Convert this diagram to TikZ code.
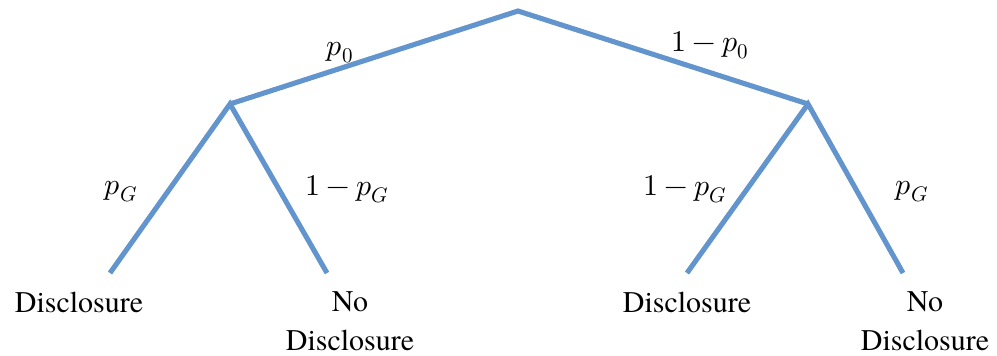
\documentclass[tikz,border=0pt]{standalone}
\usepackage{fontspec}
\usepackage{unicode-math}
\setmainfont{texgyretermes}[Extension=.otf,UprightFont=*-regular,BoldFont=*-bold,ItalicFont=*-italic,BoldItalicFont=*-bolditalic]
\setmathfont{Latin Modern Math}
\definecolor{branch}{RGB}{98,148,206}
\begin{document}
\begin{tikzpicture}[x=1pt,y=-1pt,
  edge/.style={draw=branch,line width=5pt,line cap=butt,line join=miter},
  shadowedge/.style={draw=black!25,line width=5pt,opacity=0.5},
  prob/.style={anchor=base,inner sep=0pt,font=\fontsize{30}{36}\selectfont},
  outcome/.style={anchor=base,inner sep=0pt,align=center,font=\fontsize{30}{39}\selectfont}]
\useasboundingbox (0,0) rectangle (997,356);
\coordinate (root) at (518,11);
\coordinate (L) at (230,104);
\coordinate (R) at (808,104);
\coordinate (LL) at (110,273);
\coordinate (LR) at (327,273);
\coordinate (RL) at (687,273);
\coordinate (RR) at (903,273);
\begin{scope}[shift={(1.5,2.5)}]
\draw[shadowedge] (L) -- (root) -- (R);
\draw[shadowedge] (LL) -- (L) -- (LR);
\draw[shadowedge] (RL) -- (R) -- (RR);
\end{scope}
\draw[edge] (L) -- (root) -- (R);
\draw[edge] (LL) -- (L) -- (LR);
\draw[edge] (RL) -- (R) -- (RR);
\node[prob] (p0) at (340,55) {$p_0$};
\node[prob] (q0) at (710,51) {$1-p_0$};
\node[prob] (pGl) at (121,194) {$p_G$};
\node[prob] (qGl) at (347,195) {$1-p_G$};
\node[prob] (qGr) at (685,195) {$1-p_G$};
\node[prob] (pGr) at (912,194) {$p_G$};
\node[outcome] (d1) at (79,312) {Disclosure};
\node[outcome] (n1) at (350,350) {No\\Disclosure};
\node[outcome] (d2) at (687,312) {Disclosure};
\node[outcome] (n2) at (925,350) {No\\Disclosure};
\end{tikzpicture}
\end{document}
